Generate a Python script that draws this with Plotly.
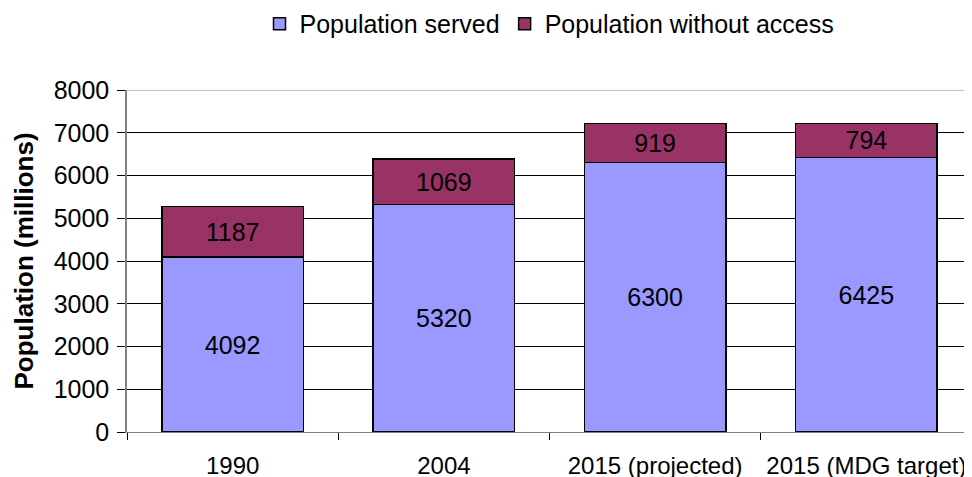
import plotly.graph_objects as go

categories = ["1990", "2004", "2015 (projected)", "2015 (MDG target)"]
served = [4092, 5320, 6300, 6425]
without_access = [1187, 1069, 919, 794]
y_ticks = [0, 1000, 2000, 3000, 4000, 5000, 6000, 7000, 8000]

FONT = "Liberation Sans, Arial, sans-serif"
FS = 25

fig = go.Figure()
fig.add_trace(go.Bar(
    x=categories, y=served, name="Population served",
    marker=dict(color="#9999FF", line=dict(color="black", width=1.5)),
    text=[str(v) for v in served], textposition="inside",
    insidetextanchor="middle", textfont=dict(size=FS, color="black", family=FONT),
    width=0.67,
))
fig.add_trace(go.Bar(
    x=categories, y=without_access, name="Population without access",
    marker=dict(color="#993366", line=dict(color="black", width=1.5)),
    text=[str(v) for v in without_access], textposition="inside",
    insidetextanchor="middle", textfont=dict(size=FS, color="black", family=FONT),
    width=0.67,
))

fig.update_layout(
    barmode="stack",
    width=964, height=469,
    margin=dict(l=119, r=0, t=82, b=45, autoexpand=False),
    paper_bgcolor="white", plot_bgcolor="white",
    font=dict(family=FONT, size=FS, color="black"),
    uniformtext=dict(mode=False),
    showlegend=True,
    legend=dict(orientation="h", x=0.5, xanchor="center", y=0.966, yanchor="middle",
                yref="container", font=dict(size=FS), traceorder="normal",
                itemwidth=30, tracegroupgap=0),
    xaxis=dict(
        range=[-0.5, 3.5], showline=True, linecolor="#808080", linewidth=1,
        ticks="outside", tickson="boundaries", ticklen=7, tickcolor="black",
        showgrid=False, tickfont=dict(size=24), ticklabelstandoff=12,
        tickangle=0, automargin=False,
    ),
    yaxis=dict(
        range=[0, 8000], tickvals=y_ticks, showline=True, linecolor="#808080",
        linewidth=1.5, ticks="outside", ticklen=8, tickcolor="black",
        showgrid=True, gridcolor="black", gridwidth=1, zeroline=False,
        tickfont=dict(size=FS), ticklabelstandoff=3, automargin=False,
        title=dict(text="<b>Population (millions)</b>", font=dict(size=26), standoff=13),
    ),
)
fig.add_shape(type="line", xref="paper", yref="y", x0=0, x1=1, y0=8000, y1=8000,
              line=dict(color="#c0c0c0", width=2))

fig.write_html("out.html")
